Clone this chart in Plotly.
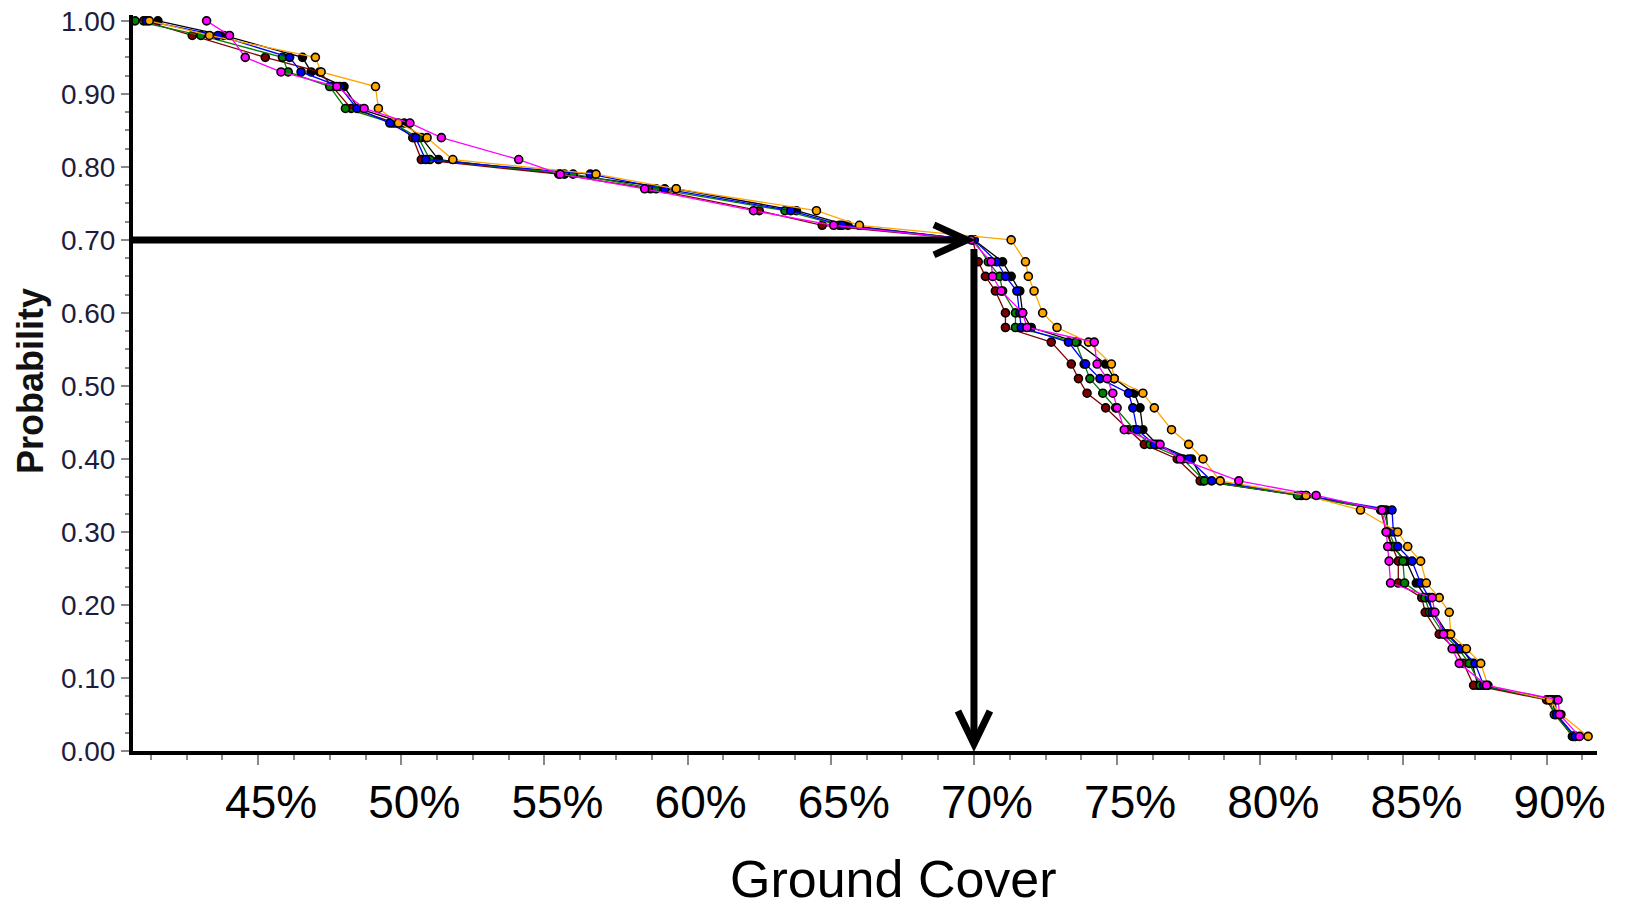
import plotly.graph_objects as go

# ---------------- data ----------------
PROB = [1.00, 0.98, 0.95, 0.93, 0.91, 0.88, 0.86, 0.84, 0.81, 0.79,
        0.77, 0.74, 0.72, 0.70, 0.67, 0.65, 0.63, 0.60, 0.58, 0.56,
        0.53, 0.51, 0.49, 0.47, 0.44, 0.42, 0.40, 0.37, 0.35, 0.33,
        0.30, 0.28, 0.26, 0.23, 0.21, 0.19, 0.16, 0.14, 0.12, 0.09,
        0.07, 0.05, 0.02]

GC_BLACK = [41.5, 43.8, 46.55, 46.85, 48.0, 48.5, 50.1, 50.7, 51.3, 55.7,
            59.6, 63.8, 65.6, 70.0, 71.0, 71.3, 71.6, 71.7, 72.0, 73.6,
            74.6, 74.9, 75.6, 75.8, 75.9, 76.4, 77.6, 78.0, 81.45, 84.4,
            84.45, 84.6, 85.1, 85.45, 85.8, 86.05, 86.55, 87.05, 87.4, 87.6,
            90.2, 90.3, 91.0]

GC_MAROON = [41.0, 42.7, 45.25, 47.15, 47.6, 48.25, 49.8, 50.4, 50.7, 55.5,
             58.7, 62.5, 64.7, 69.95, 70.15, 70.4, 70.75, 71.1, 71.1, 72.7,
             73.4, 73.65, 73.95, 74.6, 75.4, 75.95, 77.1, 77.9, 81.4, 84.2,
             84.4, 84.6, 84.82, 84.82, 85.64, 85.76, 86.25, 86.8, 87.1, 87.45,
             90.0, 90.3, 90.9]

GC_GREEN = [40.7, 43.0, 45.85, 46.05, 47.5, 48.05, 49.7, 50.6, 51.0, 56.0,
            58.9, 63.4, 65.3, 70.0, 70.5, 70.9, 71.0, 71.45, 71.45, 73.55,
            73.85, 74.05, 74.5, 74.95, 75.6, 76.15, 77.3, 78.05, 81.3, 84.3,
            84.5, 84.7, 84.98, 85.04, 85.75, 85.91, 86.4, 86.92, 87.3, 87.68,
            90.1, 90.27, 90.94]

GC_BLUE = [41.1, 43.6, 46.1, 46.5, 47.85, 48.45, 49.6, 50.5, 50.85, 56.6,
           59.2, 63.6, 65.4, 70.0, 70.8, 71.1, 71.5, 71.6, 71.65, 73.3,
           73.9, 74.4, 75.4, 75.55, 75.7, 76.3, 77.5, 78.3, 81.6, 84.6,
           84.65, 84.8, 85.3, 85.6, 85.9, 86.0, 86.5, 87.0, 87.5, 87.8,
           90.3, 90.35, 91.0]

GC_ORANGE = [41.2, 43.3, 47.0, 47.2, 49.1, 49.2, 49.9, 50.9, 51.8, 56.8,
             59.6, 64.5, 66.0, 71.3, 71.8, 71.9, 72.1, 72.4, 72.9, 74.0,
             74.8, 74.9, 75.9, 76.3, 76.9, 77.5, 78.0, 78.6, 81.6, 83.5,
             84.8, 85.15, 85.6, 85.8, 86.25, 86.6, 86.65, 87.2, 87.7, 87.95,
             90.1, 90.5, 91.45]

GC_MAGENTA = [43.2, 44.0, 44.55, 45.8, 47.75, 48.7, 50.3, 51.4, 54.1, 55.55,
              58.5, 62.3, 65.1, 69.9, 70.6, 70.65, 70.95, 71.7, 71.85, 74.2,
              74.3, 74.65, 74.85, 75.0, 75.25, 76.5, 77.2, 79.25, 81.95, 84.25,
              84.4, 84.45, 84.5, 84.55, 86.0, 86.1, 86.4, 86.7, 86.95, 87.9,
              90.4, 90.45, 91.15]

SERIES = [
    ("black", GC_BLACK, "#000000"),
    ("maroon", GC_MAROON, "#800000"),
    ("green", GC_GREEN, "#008000"),
    ("blue", GC_BLUE, "#0000FF"),
    ("orange", GC_ORANGE, "#FFA500"),
    ("magenta", GC_MAGENTA, "#FF00FF"),
]

X_TICKS = [45, 50, 55, 60, 65, 70, 75, 80, 85, 90]
X_TICK_LABELS = ["45%", "50%", "55%", "60%", "65%", "70%", "75%", "80%", "85%", "90%"]
Y_TICKS = [0.0, 0.1, 0.2, 0.3, 0.4, 0.5, 0.6, 0.7, 0.8, 0.9, 1.0]

X_RANGE = [40.63, 91.76]
Y_RANGE = [0.0, 1.008]

# reference point marked by the arrows
REF_X = 70.0
REF_P = 0.70

# ---------------- layout geometry ----------------
W, H = 1625, 906
ML, MR, MT, MB = 133, 28, 15, 155
PW = W - ML - MR
PH = H - MT - MB
px_x = PW / (X_RANGE[1] - X_RANGE[0])   # pixels per x unit
px_y = PH / (Y_RANGE[1] - Y_RANGE[0])   # pixels per y unit

fig = go.Figure()
for name, xs, col in SERIES:
    fig.add_trace(go.Scatter(
        x=xs, y=PROB, mode="lines+markers", name=name,
        line=dict(color=col, width=1.3),
        marker=dict(color=col, size=8, line=dict(color="#000000", width=1.6)),
        showlegend=False,
    ))

# arrows (lines + chevron heads)
AW = 7
arm_len, arm_half = 33, 15
tip_back = 7  # px, compensates for miter overshoot
shapes = []
# horizontal arrow
hx_tip = REF_X - tip_back / px_x
shapes.append(dict(type="line", xref="x", yref="y", x0=X_RANGE[0], x1=hx_tip,
                   y0=REF_P, y1=REF_P, line=dict(color="black", width=AW)))
shapes.append(dict(type="path", xref="x", yref="y",
                   path=f"M{hx_tip - arm_len/px_x},{REF_P + arm_half/px_y} "
                        f"L{hx_tip},{REF_P} L{hx_tip - arm_len/px_x},{REF_P - arm_half/px_y}",
                   line=dict(color="black", width=AW)))
# vertical arrow
vy_top = REF_P - 9 / px_y
vy_tip = 0.0 + tip_back / px_y
shapes.append(dict(type="line", xref="x", yref="y", x0=REF_X, x1=REF_X,
                   y0=vy_top, y1=vy_tip, line=dict(color="black", width=AW)))
shapes.append(dict(type="path", xref="x", yref="y",
                   path=f"M{REF_X - 16/px_x},{vy_tip + arm_len/px_y} "
                        f"L{REF_X},{vy_tip} L{REF_X + 16/px_x},{vy_tip + arm_len/px_y}",
                   line=dict(color="black", width=AW)))

fig.update_layout(
    width=W, height=H,
    margin=dict(l=ML, r=MR, t=MT, b=MB, pad=0, autoexpand=False),
    paper_bgcolor="white", plot_bgcolor="white",
    font=dict(family="Liberation Sans, Arial, sans-serif", color="black"),
    shapes=shapes,
    xaxis=dict(
        range=X_RANGE, showgrid=False, zeroline=False, automargin=False,
        showline=True, linecolor="black", linewidth=4,
        tickmode="array", tickvals=X_TICKS, ticktext=X_TICK_LABELS,
        ticks="outside", ticklen=10, tickwidth=2, tickcolor="#888888",
        tickfont=dict(size=46, color="black", family="Liberation Sans, Arial"),
        ticklabelshift=13, ticklabelstandoff=-2,
        minor=dict(tickmode="linear", tick0=45, dtick=1.25, ticks="outside",
                   ticklen=5, tickwidth=2, tickcolor="#888888", showgrid=False),
    ),
    yaxis=dict(
        range=Y_RANGE, showgrid=False, zeroline=False, automargin=False,
        showline=True, linecolor="black", linewidth=4,
        tickmode="array", tickvals=Y_TICKS, tickformat=".2f",
        ticks="outside", ticklen=8, tickwidth=2, tickcolor="#888888",
        tickfont=dict(size=28, color="#1c1c3c", family="Liberation Sans, Arial"),
        minor=dict(tickmode="linear", tick0=0, dtick=0.025, ticks="outside",
                   ticklen=4, tickwidth=2, tickcolor="#888888", showgrid=False),
    ),
    annotations=[
        dict(text="<b>Probability</b>", xref="paper", yref="paper",
             x=(30 - ML) / PW, y=(H - MB - 381) / PH, textangle=-90,
             showarrow=False, xanchor="center", yanchor="middle",
             font=dict(size=36, color="#111111", family="Liberation Sans, Arial")),
        dict(text="Ground Cover", xref="paper", yref="paper",
             x=(893 - ML) / PW, y=(H - MB - 879) / PH,
             showarrow=False, xanchor="center", yanchor="middle",
             font=dict(size=52, color="black", family="Liberation Sans, Arial")),
    ],
)

fig.write_html("out.html")
